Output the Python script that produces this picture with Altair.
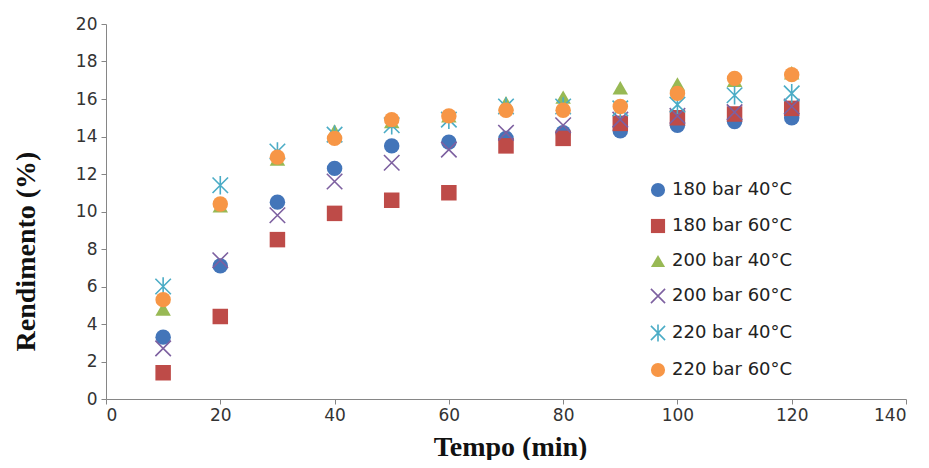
import altair as alt
import pandas as pd

tempo = [10, 20, 30, 40, 50, 60, 70, 80, 90, 100, 110, 120]
series = ["180 bar 40°C", "180 bar 60°C", "200 bar 40°C",
          "200 bar 60°C", "220 bar 40°C", "220 bar 60°C"]

s180_40 = [3.3, 7.1, 10.5, 12.3, 13.5, 13.7, 13.9, 14.2, 14.3, 14.6, 14.8, 15.0]
s180_60 = [1.4, 4.4, 8.5, 9.9, 10.6, 11.0, 13.5, 13.9, 14.7, 15.0, 15.2, 15.5]
s200_40 = [4.8, 10.3, 12.8, 14.3, 14.8, 15.1, 15.8, 16.1, 16.6, 16.8, 17.0, 17.4]
s200_60 = [2.7, 7.4, 9.8, 11.6, 12.6, 13.3, 14.2, 14.6, 14.9, 15.1, 15.3, 15.6]
s220_40 = [6.0, 11.4, 13.2, 14.1, 14.6, 14.9, 15.6, 15.6, 15.5, 15.7, 16.2, 16.3]
s220_60 = [5.3, 10.4, 12.9, 13.9, 14.9, 15.1, 15.4, 15.4, 15.6, 16.3, 17.1, 17.3]

fill_colors = ["#4375B9", "#BE4B48", "#98B954", "transparent", "transparent", "#F79646"]
stroke_colors = ["transparent", "transparent", "transparent", "#7D60A0", "#4BACC6", "transparent"]
shapes = ["circle", "square", "triangle-up",
          "M-1,-1L1,1M-1,1L1,-1",
          "M-1,-1L1,1M-1,1L1,-1M0,-1.2L0,1.2",
          "circle"]

rows = []
for name, vals in zip(series, [s180_40, s180_60, s200_40, s200_60, s220_40, s220_60]):
    for t, v in zip(tempo, vals):
        rows.append({"Tempo": t, "Rendimento": v, "Serie": name})
df = pd.DataFrame(rows)

chart = alt.Chart(df).mark_point(opacity=1, strokeWidth=1.6, size=240).encode(
    x=alt.X("Tempo:Q", scale=alt.Scale(domain=[0, 140], nice=False),
            axis=alt.Axis(values=list(range(0, 141, 20)), title="Tempo (min)",
                          titleX=404, titleY=56, titleAlign="center",
                          titleBaseline="alphabetic")),
    y=alt.Y("Rendimento:Q", scale=alt.Scale(domain=[0, 20], nice=False),
            axis=alt.Axis(values=list(range(0, 21, 2)), title="Rendimento (%)",
                          titleX=-72, titleY=227, titleAngle=-90, titleAlign="center",
                          titleBaseline="alphabetic")),
    fill=alt.Fill("Serie:N", scale=alt.Scale(domain=series, range=fill_colors), title=None),
    stroke=alt.Stroke("Serie:N", scale=alt.Scale(domain=series, range=stroke_colors), title=None),
    shape=alt.Shape("Serie:N", scale=alt.Scale(domain=series, range=shapes), title=None),
    order=alt.Order("ord:Q"),
).transform_calculate(
    ord="indexof(['180 bar 40°C','180 bar 60°C','200 bar 40°C','200 bar 60°C','220 bar 40°C','220 bar 60°C'], datum.Serie)"
).properties(
    width=800, height=375,
    autosize=alt.AutoSizeParams(type="none"),
    padding={"left": 98, "top": 16, "right": 15, "bottom": 61},
).configure_view(stroke=None).configure_axis(
    grid=False, domainColor="#868686", tickColor="#868686", tickSize=5,
    labelFont="DejaVu Sans", labelFontSize=17, labelColor="#333333",
    titleFont="Liberation Serif", titleFontSize=28, titleFontWeight="bold",
    titleColor="#111111",
).configure_axisY(labelPadding=4).configure_axisX(labelPadding=3).configure_legend(
    orient="none", legendX=543, legendY=157, symbolSize=200, symbolStrokeWidth=1.6,
    labelFont="DejaVu Sans", labelFontSize=18, labelColor="#222222",
    rowPadding=14, labelOffset=5,
)

chart.save("out.html", embed_options={"renderer": "svg", "actions": False})
